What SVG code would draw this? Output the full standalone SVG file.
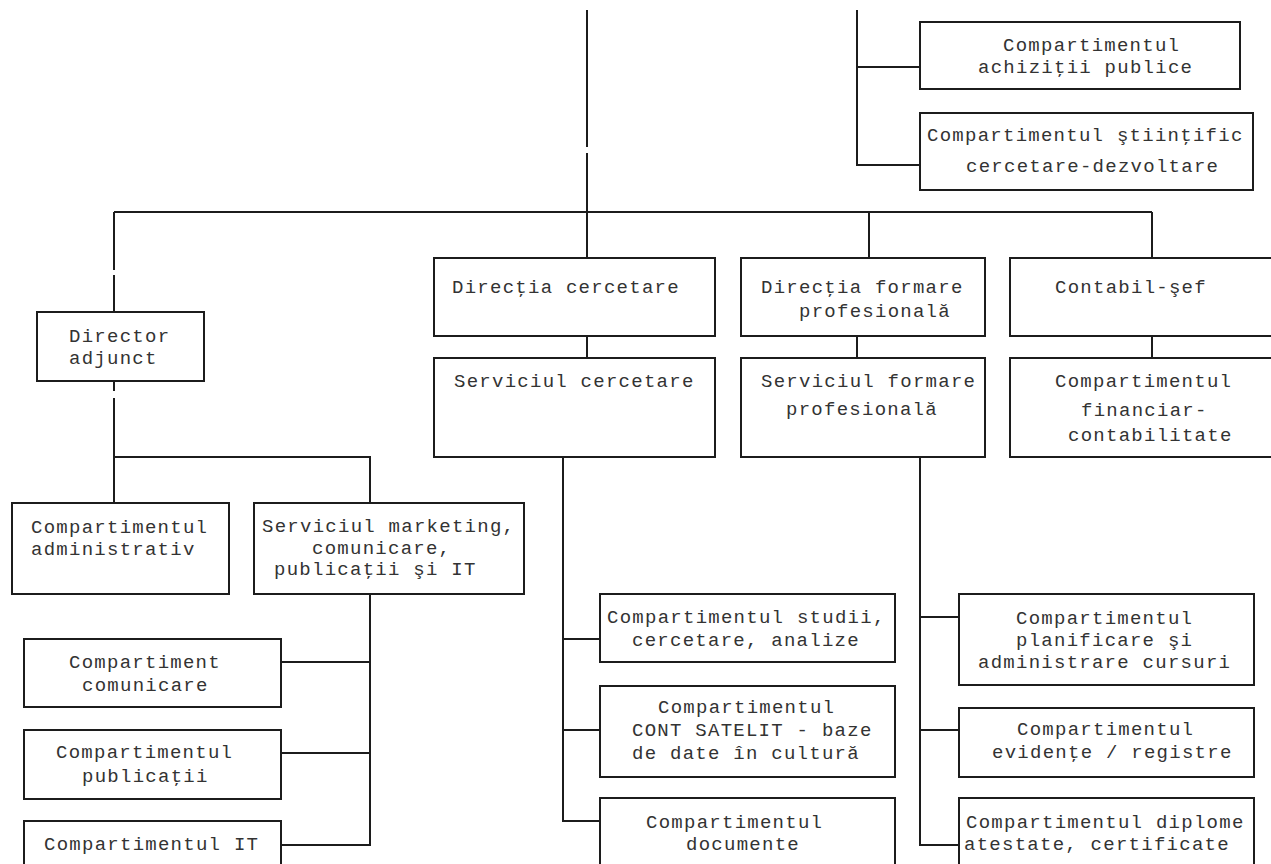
<svg xmlns="http://www.w3.org/2000/svg" width="1271" height="864" viewBox="0 0 1271 864">
<style>
.bg{fill:#ffffff}
.box{fill:#ffffff;stroke:#1c1c1c;stroke-width:2}
.ln{fill:none;stroke:#1c1c1c;stroke-width:2}
.t{font-family:"Liberation Mono","Courier New",monospace;font-size:19px;letter-spacing:1.26px;fill:#333333}
</style>
<rect class="bg" x="0" y="0" width="1271" height="864"/>
<g id="connectors">
<path class="ln" d="M587,10 V147 M587,153 V258"/>
<path class="ln" d="M857,10 V165 H920 M857,67 H920"/>
<path class="ln" d="M114,212 H1152"/>
<path class="ln" d="M114,212 V270 M114,275 V312"/>
<path class="ln" d="M869,212 V258"/>
<path class="ln" d="M1152,212 V258"/>
<path class="ln" d="M587,336 V358"/>
<path class="ln" d="M857,336 V358"/>
<path class="ln" d="M1152,336 V358"/>
<path class="ln" d="M114,381 V391 M114,398 V503"/>
<path class="ln" d="M114,457 H370 V503"/>
<path class="ln" d="M370,594 V845 H281 M370,662 H281 M370,753 H281"/>
<path class="ln" d="M563,457 V821 H600 M563,639 H600 M563,730 H600"/>
<path class="ln" d="M920,457 V845 H959 M920,617 H959 M920,730 H959"/>
</g>
<g id="achizitii">
<rect class="box" x="920" y="22" width="320" height="67"/>
<text class="t" x="1003" y="51">Compartimentul</text>
<text class="t" x="978" y="73">achiziţii publice</text>
</g>
<g id="stiintific">
<rect class="box" x="920" y="113" width="333" height="77"/>
<text class="t" x="927" y="141">Compartimentul ştiinţific</text>
<text class="t" x="966" y="172">cercetare-dezvoltare</text>
</g>
<g id="directia-cercetare">
<rect class="box" x="434" y="258" width="281" height="78"/>
<text class="t" x="452" y="293">Direcţia cercetare</text>
</g>
<g id="directia-formare">
<rect class="box" x="741" y="258" width="244" height="78"/>
<text class="t" x="761" y="293">Direcţia formare</text>
<text class="t" x="799" y="317">profesională</text>
</g>
<g id="contabil-sef">
<rect class="box" x="1010" y="258" width="290" height="78"/>
<text class="t" x="1055" y="293">Contabil-şef</text>
</g>
<g id="serviciul-cercetare">
<rect class="box" x="434" y="358" width="281" height="99"/>
<text class="t" x="454" y="387">Serviciul cercetare</text>
</g>
<g id="serviciul-formare">
<rect class="box" x="741" y="358" width="244" height="99"/>
<text class="t" x="761" y="387">Serviciul formare</text>
<text class="t" x="786" y="415">profesională</text>
</g>
<g id="financiar">
<rect class="box" x="1010" y="358" width="290" height="99"/>
<text class="t" x="1055" y="387">Compartimentul</text>
<text class="t" x="1081" y="416">financiar-</text>
<text class="t" x="1068" y="441">contabilitate</text>
</g>
<g id="director-adjunct">
<rect class="box" x="37" y="312" width="167" height="69"/>
<text class="t" x="69" y="342">Director</text>
<text class="t" x="69" y="364">adjunct</text>
</g>
<g id="administrativ">
<rect class="box" x="12" y="503" width="217" height="91"/>
<text class="t" x="31" y="533">Compartimentul</text>
<text class="t" x="31" y="555">administrativ</text>
</g>
<g id="marketing">
<rect class="box" x="254" y="503" width="270" height="91"/>
<text class="t" x="262" y="532">Serviciul marketing,</text>
<text class="t" x="312" y="553.5">comunicare,</text>
<text class="t" x="274" y="575">publicaţii şi IT</text>
</g>
<g id="comunicare">
<rect class="box" x="24" y="639" width="257" height="68"/>
<text class="t" x="69" y="668">Compartiment</text>
<text class="t" x="82" y="691">comunicare</text>
</g>
<g id="publicatii">
<rect class="box" x="24" y="730" width="257" height="69"/>
<text class="t" x="56" y="758">Compartimentul</text>
<text class="t" x="82" y="782">publicaţii</text>
</g>
<g id="it">
<rect class="box" x="24" y="821" width="257" height="60"/>
<text class="t" x="44" y="850">Compartimentul IT</text>
</g>
<g id="studii">
<rect class="box" x="600" y="594" width="295" height="68"/>
<text class="t" x="607" y="623">Compartimentul studii,</text>
<text class="t" x="632" y="646">cercetare, analize</text>
</g>
<g id="cont-satelit">
<rect class="box" x="600" y="686" width="295" height="91"/>
<text class="t" x="658" y="713">Compartimentul</text>
<text class="t" x="632" y="736">CONT SATELIT - baze</text>
<text class="t" x="632" y="759">de date în cultură</text>
</g>
<g id="documente">
<rect class="box" x="600" y="798" width="295" height="83"/>
<text class="t" x="646" y="828">Compartimentul</text>
<text class="t" x="686" y="850">documente</text>
</g>
<g id="planificare">
<rect class="box" x="959" y="594" width="295" height="91"/>
<text class="t" x="1016" y="624">Compartimentul</text>
<text class="t" x="1016" y="646">planificare şi</text>
<text class="t" x="978" y="668">administrare cursuri</text>
</g>
<g id="evidente">
<rect class="box" x="959" y="708" width="295" height="69"/>
<text class="t" x="1017" y="735">Compartimentul</text>
<text class="t" x="992" y="758">evidenţe / registre</text>
</g>
<g id="diplome">
<rect class="box" x="959" y="798" width="295" height="83"/>
<text class="t" x="966" y="828">Compartimentul diplome</text>
<text class="t" x="964" y="850">atestate, certificate</text>
</g>
</svg>
